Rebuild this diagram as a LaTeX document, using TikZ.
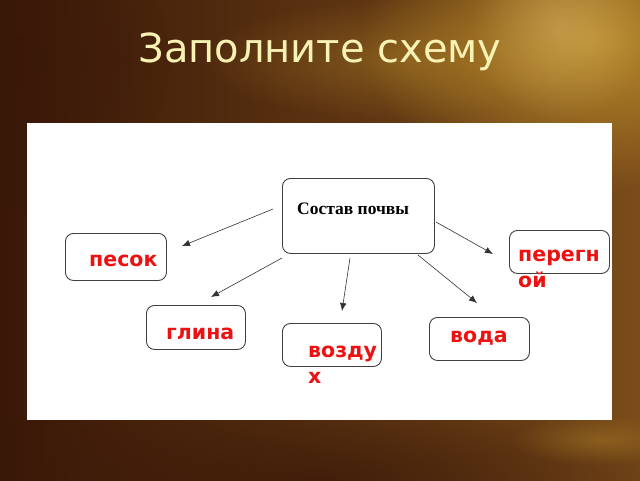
\documentclass[tikz,border=0pt]{standalone}
\usepackage{fontspec}
\setmainfont{DejaVu Sans}
\newfontfamily\titlefont{DejaVu Sans}
\newfontfamily\serifb{Liberation Serif}
\newfontfamily\labfont{DejaVu Sans}
\usetikzlibrary{arrows.meta,fadings}
\tikzfading[name=glow, inner color=transparent!0, outer color=transparent!100]
\definecolor{bgdark}{HTML}{3A1808}
\definecolor{bgmid}{HTML}{6A3A12}
\definecolor{bgright}{HTML}{7A4C1A}
\definecolor{bggold}{HTML}{C4962E}
\definecolor{titlecol}{HTML}{F8F2B4}
\definecolor{labred}{HTML}{EE1111}
\tikzset{
  card/.style={draw=black!75, line width=0.9pt, rounded corners=8pt, fill=white},
  lab/.style={text=labred, font=\labfont\bfseries\fontsize{20.5}{22}\selectfont, inner sep=0pt, anchor=base west},
  arr/.style={draw=black!80, line width=0.6pt, -{Latex[length=8pt,width=6.5pt]}}
}
\begin{document}
\begin{tikzpicture}[x=1pt,y=-1pt]
\useasboundingbox (0,0) rectangle (640,480);
% background
\fill[bgmid] (0,0) rectangle (640,480);
\shade[left color=bgdark, right color=bgright] (0,0) rectangle (640,480);
\fill[bggold, path fading=glow, opacity=0.85] (590,40) ellipse (230pt and 150pt);
\fill[bggold!70!white, path fading=glow, opacity=0.45] (560,30) circle (90pt);
\fill[bggold, path fading=glow, opacity=0.35] (400,60) ellipse (200pt and 60pt);
\fill[bgdark, path fading=glow, opacity=0.75] (320,480) ellipse (420pt and 90pt);
\fill[bgdark, path fading=glow, opacity=0.6] (20,60) circle (150pt);
\fill[bggold, path fading=glow, opacity=0.35] (600,440) ellipse (90pt and 25pt);
% title
\node[text=titlecol, font=\titlefont\fontsize{40}{44}\selectfont, inner sep=0pt, anchor=base] (title) at (320,62) {Заполните схему};
% white panel
\fill[white] (27,123) rectangle (612,420);
% boxes
\node[card, minimum width=152pt, minimum height=75pt, anchor=north west] (main) at (282,178) {};
\node[card, minimum width=101pt, minimum height=47pt, anchor=north west] (sand) at (65,233) {};
\node[card, minimum width=100pt, minimum height=43pt, anchor=north west] (humus) at (509,230) {};
\node[card, minimum width=99pt, minimum height=44pt, anchor=north west] (clay) at (146,305) {};
\node[card, minimum width=99pt, minimum height=43pt, anchor=north west] (air) at (282,323) {};
\node[card, minimum width=100pt, minimum height=43pt, anchor=north west] (water) at (429,317) {};
% texts
\node[font=\serifb\bfseries\fontsize{17.5}{19}\selectfont, inner sep=0pt, anchor=base west] (maint) at (297,214) {Состав почвы};
\node[lab] (sandt) at (89,266) {песок};
\node[lab] (humust1) at (518,261) {перегн};
\node[lab] (humust2) at (518,287) {ой};
\node[lab] (clayt) at (166,339) {глина};
\node[lab] (airt1) at (308,357) {возду};
\node[lab] (airt2) at (308,383) {х};
\node[lab] (watert) at (450,342) {вода};
% arrows
\coordinate (a1s) at (273,209); \coordinate (a1e) at (182,246);
\coordinate (a2s) at (282,258); \coordinate (a2e) at (211,297);
\coordinate (a3s) at (350,258); \coordinate (a3e) at (342,311);
\coordinate (a4s) at (418,255); \coordinate (a4e) at (477,303);
\coordinate (a5s) at (436,222); \coordinate (a5e) at (493,254);
\draw[arr] (a1s) -- (a1e);
\draw[arr] (a2s) -- (a2e);
\draw[arr] (a3s) -- (a3e);
\draw[arr] (a4s) -- (a4e);
\draw[arr] (a5s) -- (a5e);
\end{tikzpicture}
\end{document}
